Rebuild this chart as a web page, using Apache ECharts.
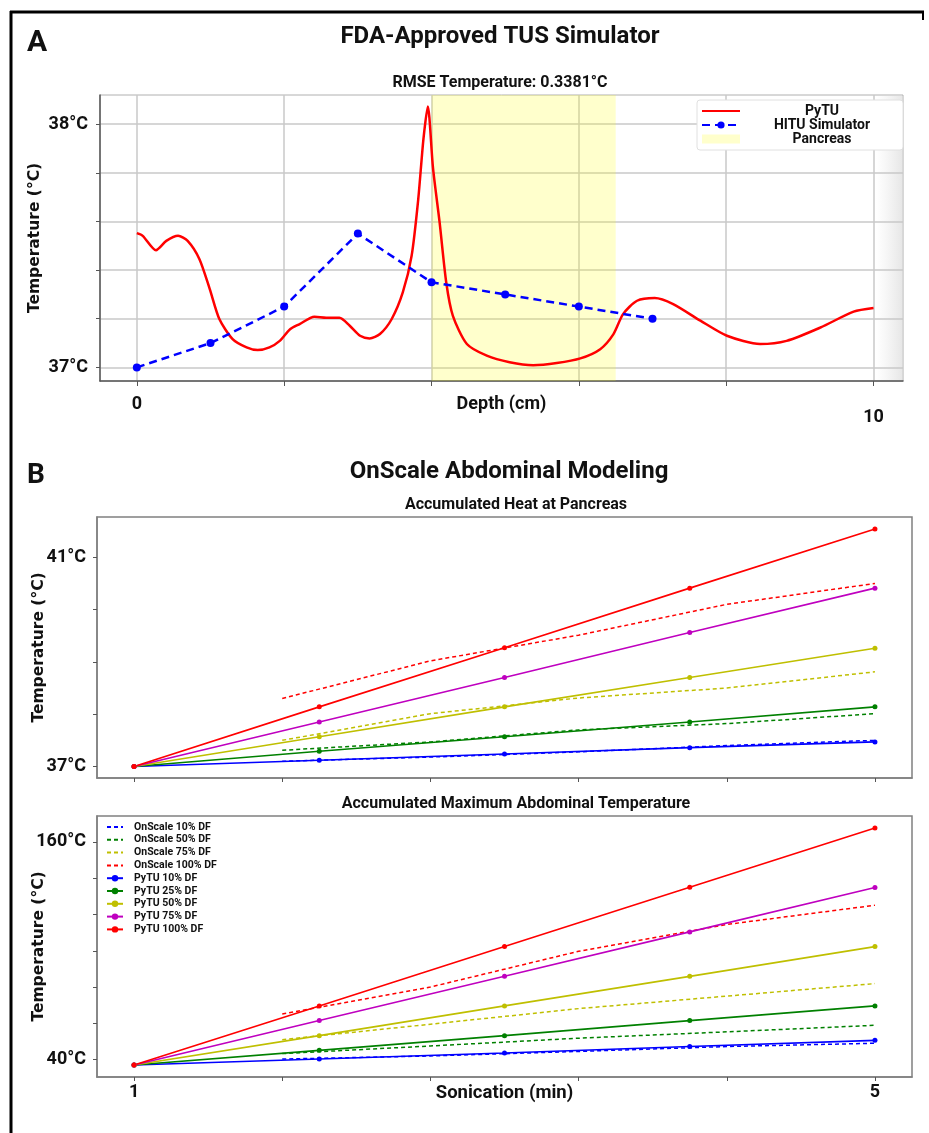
<!DOCTYPE html>
<html><head><meta charset="utf-8">
<script src="https://cdn.jsdelivr.net/npm/echarts@6/dist/echarts.min.js"></script>
<style>html,body{margin:0;padding:0;background:#fff}#c{width:929px;height:1133px}</style>
</head><body><div id="c"></div>
<script>
// ---------- Panel A data ----------
const pytuDepth = [0.00,0.08,0.26,0.40,0.56,0.69,0.85,0.99,1.12,1.30,1.49,1.64,1.80,1.94,2.08,2.21,2.41,2.57,2.75,2.89,3.03,3.16,3.30,3.46,3.61,3.73,3.82,3.89,3.95,4.02,4.11,4.20,4.29,4.48,4.75,5.06,5.38,5.70,6.02,6.29,6.47,6.60,6.79,7.03,7.28,7.65,8.01,8.46,8.82,9.28,9.73,10.0];
const pytuTemp  = [37.552,37.541,37.482,37.520,37.541,37.520,37.445,37.322,37.199,37.116,37.082,37.071,37.082,37.109,37.157,37.178,37.208,37.204,37.204,37.171,37.130,37.119,37.137,37.199,37.308,37.459,37.692,37.938,38.073,37.820,37.596,37.349,37.212,37.096,37.048,37.021,37.009,37.018,37.037,37.075,37.137,37.219,37.274,37.285,37.260,37.192,37.130,37.096,37.109,37.164,37.229,37.244];
const hituDepth = [0,1,2,3,4,5,6,7];
const hituTemp  = [37.00,37.10,37.25,37.55,37.35,37.30,37.25,37.20];
const pancreasRange = [4.0, 6.5];
const depthTicks = [0,2,4,6,8,10];
const depthLabels = [0,10];
const tempTicksA = [37,37.2,37.4,37.6,37.8,38];
const tempLabelsA = [37,38];

// ---------- Panel B data ----------
const sonication = [1,2,3,4,5];
const onscaleTimes = [1.8,2.6,3.4,4.2,5.0];
const sonicationTicks = [1,1.8,2.6,3.4,4.2,5];
const sonicationLabels = [1,5];
const pancreasTicks = [37,38,39,40,41];
const pancreasLabels = [37,41];
const abdomTicks = [40,60,80,100,120,140,160];
const abdomLabels = [40,160];

const onscaleNames = ['OnScale 10% DF','OnScale 50% DF','OnScale 75% DF','OnScale 100% DF'];
const pytuNames = ['PyTU 10% DF','PyTU 25% DF','PyTU 50% DF','PyTU 75% DF','PyTU 100% DF'];

// Accumulated heat at pancreas
const pancPyTU10  = [37, 37.12, 37.24, 37.36, 37.47];
const pancPyTU25  = [37, 37.29, 37.57, 37.85, 38.14];
const pancPyTU50  = [37, 37.57, 38.14, 38.70, 39.26];
const pancPyTU75  = [37, 37.85, 38.70, 39.56, 40.41];
const pancPyTU100 = [37, 38.14, 39.27, 40.41, 41.54];
const pancOn10  = [37.10, 37.18, 37.28, 37.40, 37.50];
const pancOn50  = [37.31, 37.47, 37.70, 37.82, 38.01];
const pancOn75  = [37.50, 38.01, 38.31, 38.50, 38.81];
const pancOn100 = [38.30, 39.02, 39.51, 40.10, 40.50];

// Accumulated maximum abdominal temperature
const abdPyTU10  = [37, 40.3, 43.6, 47.2, 50.6];
const abdPyTU25  = [37, 45.1, 53.2, 61.5, 69.6];
const abdPyTU50  = [37, 53.2, 69.6, 85.9, 102.3];
const abdPyTU75  = [37, 61.5, 85.9, 110.4, 134.9];
const abdPyTU100 = [37, 69.6, 102.3, 135.0, 167.7];
const abdOn10  = [40.3, 42.0, 44.5, 47.2, 49.0];
const abdOn50  = [43.3, 47.5, 51.8, 55.3, 58.9];
const abdOn75  = [51.0, 59.5, 68.1, 75.0, 81.9];
const abdOn100 = [65.1, 80.0, 99.7, 114.5, 125.1];

// ---------- styling ----------
const FONT = 'Roboto, "Liberation Sans", sans-serif';
const WIDE = '"DejaVu Sans", Verdana, sans-serif';
const onColors = ['#0000ff','#008000','#bfbf00','#ff0000'];
const pyColors = ['#0000ff','#008000','#bfbf00','#bf00bf','#ff0000'];
const zip = (xs, ys) => xs.map((x, i) => [x, ys[i]]);
const degLabel = v => Math.round(v) + '°C';

function bSeries(axisIdx, onArrs, pyArrs) {
  const out = [];
  onArrs.forEach((arr, i) => out.push({
    name: onscaleNames[i], type: 'line', xAxisIndex: axisIdx, yAxisIndex: axisIdx,
    data: zip(onscaleTimes, arr), symbol: 'none', color: onColors[i],
    lineStyle: { width: 1.5, type: [4, 3], color: onColors[i] }, z: 2, silent: true
  }));
  pyArrs.forEach((arr, i) => out.push({
    name: pytuNames[i], type: 'line', xAxisIndex: axisIdx, yAxisIndex: axisIdx,
    data: zip(sonication, arr), symbol: 'circle', symbolSize: 5, color: pyColors[i],
    itemStyle: { color: pyColors[i] },
    lineStyle: { width: 1.6, color: pyColors[i] }, z: 3, silent: true
  }));
  return out;
}

function yAxisB(idx, min, max, ticks, labels) {
  return {
    type: 'value', gridIndex: idx, min: min, max: max,
    name: 'Temperature (°C)', nameLocation: 'middle', nameGap: 50, nameMoveOverlap: false,
    nameTextStyle: { fontFamily: WIDE, fontWeight: 'bold', fontSize: 15.5, color: '#111' },
    axisLine: { show: true, onZero: false, lineStyle: { color: '#808080', width: 1.5 } },
    axisTick: { show: true, length: 4, customValues: ticks, lineStyle: { color: '#555' } },
    axisLabel: { customValues: labels, formatter: degLabel, margin: 11,
      fontFamily: FONT, fontWeight: 'bold', fontSize: 18, color: '#111' },
    splitLine: { show: false }
  };
}
function xAxisB(idx, showLabels) {
  return {
    type: 'value', gridIndex: idx, min: 0.8, max: 5.2,
    name: showLabels ? 'Sonication (min)' : '', nameLocation: 'middle', nameGap: 7, nameMoveOverlap: false,
    nameTextStyle: { fontFamily: FONT, fontWeight: 'bold', fontSize: 18.5, color: '#111', verticalAlign: 'top' },
    axisLine: { show: true, onZero: false, lineStyle: { color: '#808080', width: 1.5 } },
    axisTick: { show: true, length: 4, customValues: sonicationTicks, lineStyle: { color: '#555' } },
    axisLabel: { show: showLabels, customValues: sonicationLabels, margin: 6,
      fontFamily: FONT, fontWeight: 'bold', fontSize: 18, color: '#111' },
    splitLine: { show: false }
  };
}

const txt = (x, y, text, size) => ({
  type: 'text', x: x, y: y, silent: true,
  style: { text: text, fontFamily: FONT, fontWeight: 'bold', fontSize: size, fill: '#111', align: 'center', verticalAlign: 'middle' }
});
const lineOnly = n => ({ name: n, itemStyle: { opacity: 0 } });

const option = {
  backgroundColor: '#ffffff',
  animation: false,
  grid: [
    { left: 100, top: 95, width: 803, height: 286, show: true, borderColor: '#b0b0b0', borderWidth: 1 },
    { left: 97, top: 517, width: 815, height: 261, show: true, borderColor: '#808080', borderWidth: 1.5 },
    { left: 97, top: 816, width: 815, height: 261, show: true, borderColor: '#808080', borderWidth: 1.5 }
  ],
  xAxis: [
    {
      type: 'value', gridIndex: 0, min: -0.5, max: 10.4,
      name: 'Depth (cm)', nameLocation: 'middle', nameGap: 14, nameMoveOverlap: false,
      nameTextStyle: { fontFamily: FONT, fontWeight: 'bold', fontSize: 18, color: '#111', verticalAlign: 'top' },
      axisLine: { show: true, onZero: false, lineStyle: { color: '#555', width: 1.5 } },
      axisTick: { show: true, length: 5, customValues: depthTicks, lineStyle: { color: '#555' } },
      axisLabel: { customValues: depthLabels, margin: 14,
        formatter: v => v === 10 ? '{lo|10}' : '{n|' + v + '}',
        rich: {
          n: { fontFamily: FONT, fontWeight: 'bold', fontSize: 18, color: '#111' },
          lo: { fontFamily: FONT, fontWeight: 'bold', fontSize: 18, color: '#111', padding: [13, 0, 0, 0] }
        } },
      splitLine: { show: true, lineStyle: { color: '#c8c8c8', width: 1.5 } }
    },
    xAxisB(1, false),
    xAxisB(2, true)
  ],
  yAxis: [
    {
      type: 'value', gridIndex: 0, min: 36.944, max: 38.12,
      name: 'Temperature (°C)', nameLocation: 'middle', nameGap: 57, nameMoveOverlap: false,
      nameTextStyle: { fontFamily: WIDE, fontWeight: 'bold', fontSize: 15.5, color: '#111' },
      axisLine: { show: true, onZero: false, lineStyle: { color: '#555', width: 1.5 } },
      axisTick: { show: true, length: 4, customValues: tempTicksA, lineStyle: { color: '#555' } },
      axisLabel: { customValues: tempLabelsA, formatter: degLabel, margin: 12,
        fontFamily: FONT, fontWeight: 'bold', fontSize: 18, color: '#111' },
      splitLine: { show: true, lineStyle: { color: '#c8c8c8', width: 1.5 } }
    },
    yAxisB(1, 36.78, 41.77, pancreasTicks, pancreasLabels),
    yAxisB(2, 30.4, 174.3, abdomTicks, abdomLabels)
  ],
  legend: [
    {
      data: [lineOnly('PyTU'), 'HITU Simulator', { name: 'Pancreas', icon: 'rect', itemStyle: { color: '#ffffcc' } }],
      orient: 'vertical', left: 697, top: 100, padding: [4, 4, 4, 4],
      itemWidth: 38, itemHeight: 9, itemGap: 0,
      backgroundColor: '#ffffff', borderColor: '#e0e0e0', borderWidth: 1, borderRadius: 3,
      selectedMode: false,
      formatter: n => '{c|' + n + '}',
      textStyle: { rich: { c: { width: 154, align: 'center', fontFamily: FONT, fontWeight: 'bold', fontSize: 14, lineHeight: 15, color: '#111' } } }
    },
    {
      data: onscaleNames.map(lineOnly).concat(pytuNames),
      orient: 'vertical', left: 106, top: 821, padding: 0,
      itemWidth: 16, itemHeight: 8, itemGap: 0.8, selectedMode: false,
      textStyle: { fontFamily: FONT, fontWeight: 'bold', fontSize: 10.5, lineHeight: 12, color: '#111', padding: [0, 0, 0, 6] }
    }
  ],
  series: [
    {
      name: 'Pancreas', type: 'line', xAxisIndex: 0, yAxisIndex: 0, data: [],
      color: '#ffffcc', silent: true,
      markArea: { silent: true, itemStyle: { color: 'rgba(255,255,0,0.2)' },
        data: [[{ xAxis: pancreasRange[0] }, { xAxis: pancreasRange[1] }]] }
    },
    {
      name: 'PyTU', type: 'line', xAxisIndex: 0, yAxisIndex: 0,
      data: zip(pytuDepth, pytuTemp), symbol: 'none', smooth: 0.25, color: '#ff0000',
      lineStyle: { width: 2.5, color: '#ff0000' }, z: 3, silent: true
    },
    {
      name: 'HITU Simulator', type: 'line', xAxisIndex: 0, yAxisIndex: 0,
      data: zip(hituDepth, hituTemp), symbol: 'circle', symbolSize: 8, color: '#0000ff',
      itemStyle: { color: '#0000ff' },
      lineStyle: { width: 2.5, type: [8, 5], color: '#0000ff' }, z: 4, silent: true
    }
  ].concat(
    bSeries(1, [pancOn10, pancOn50, pancOn75, pancOn100], [pancPyTU10, pancPyTU25, pancPyTU50, pancPyTU75, pancPyTU100]),
    bSeries(2, [abdOn10, abdOn50, abdOn75, abdOn100], [abdPyTU10, abdPyTU25, abdPyTU50, abdPyTU75, abdPyTU100])
  ),
  graphic: [
    { type: 'rect', silent: true, shape: { x: 876, y: 96, width: 26, height: 284 },
      style: { fill: { type: 'linear', x: 0, y: 0, x2: 1, y2: 0,
        colorStops: [{ offset: 0, color: 'rgba(230,230,230,0)' }, { offset: 1, color: 'rgba(225,225,225,0.8)' }] } } },
    { type: 'line', silent: true, shape: { x1: 11, y1: 11, x2: 11, y2: 1133 }, style: { stroke: '#000', lineWidth: 3 } },
    { type: 'line', silent: true, shape: { x1: 10, y1: 12, x2: 924, y2: 12 }, style: { stroke: '#000', lineWidth: 3 } },
    { type: 'line', silent: true, shape: { x1: 923, y1: 11, x2: 923, y2: 20 }, style: { stroke: '#000', lineWidth: 2 } },
    txt(37, 43, 'A', 30),
    txt(500, 37, 'FDA-Approved TUS Simulator', 24),
    txt(500, 83, 'RMSE Temperature: 0.3381°C', 16),
    txt(36, 476, 'B', 28),
    txt(509, 472, 'OnScale Abdominal Modeling', 24),
    txt(516, 505, 'Accumulated Heat at Pancreas', 16),
    txt(516, 804, 'Accumulated Maximum Abdominal Temperature', 16)
  ]
};

const chart = echarts.init(document.getElementById('c'), null, { renderer: 'canvas' });
chart.setOption(option);
</script>
</body></html>
